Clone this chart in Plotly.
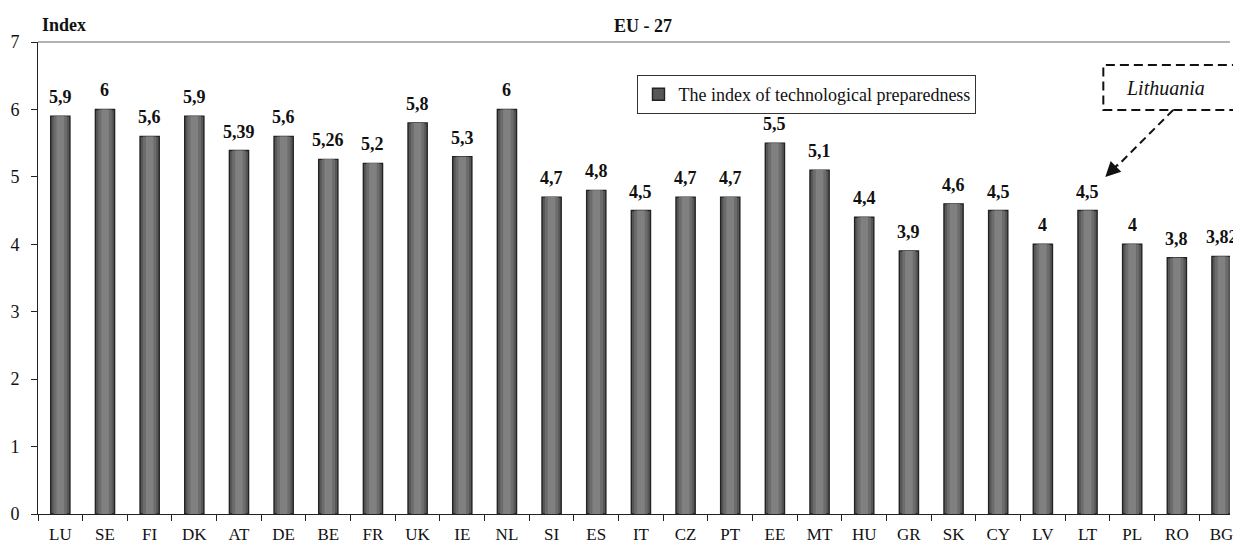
import plotly.graph_objects as go

countries = ["LU", "SE", "FI", "DK", "AT", "DE", "BE", "FR", "UK", "IE", "NL", "SI", "ES", "IT",
             "CZ", "PT", "EE", "MT", "HU", "GR", "SK", "CY", "LV", "LT", "PL", "RO", "BG"]
index_values = [5.9, 6, 5.6, 5.9, 5.39, 5.6, 5.26, 5.2, 5.8, 5.3, 6, 4.7, 4.8, 4.5,
                4.7, 4.7, 5.5, 5.1, 4.4, 3.9, 4.6, 4.5, 4, 4.5, 4, 3.8, 3.82]
value_labels = ["5,9", "6", "5,6", "5,9", "5,39", "5,6", "5,26", "5,2", "5,8", "5,3", "6", "4,7",
                "4,8", "4,5", "4,7", "4,7", "5,5", "5,1", "4,4", "3,9", "4,6", "4,5", "4", "4,5",
                "4", "3,8", "3,82"]
y_ticks = [0, 1, 2, 3, 4, 5, 6, 7]

SERIF = "Liberation Serif, Times New Roman, serif"

# plot-area geometry in pixels, used to place callouts in paper coordinates
L, R, T, B = 38, 1233, 42, 514


def px(xp):
    return (xp - L) / (R - L)


def py(yp):
    return (B - yp) / (B - T)


fig = go.Figure()
# outer bar with dark outline
fig.add_trace(go.Bar(
    x=countries, y=index_values,
    name="The index of technological preparedness",
    marker=dict(color="#575757", line=dict(color="#222222", width=1.4)),
    width=0.43,
))
# lighter inner layers give the bars a rounded, shaded look
for w, col in [(0.30, "#6c6c6c"), (0.17, "#808080")]:
    fig.add_trace(go.Bar(
        x=countries, y=index_values, width=w, showlegend=False, hoverinfo="skip",
        marker=dict(color=col, line=dict(width=0)),
    ))

# value labels above the bars
for c, v, t in zip(countries, index_values, value_labels):
    fig.add_annotation(x=c, y=v, text=f"<b>{t}</b>", showarrow=False,
                       xanchor="center", yanchor="bottom", yshift=7,
                       font=dict(family=SERIF, size=18, color="#111"))

# chart headings
fig.add_annotation(x=0.0, xref="paper", y=1.0, yref="paper", yshift=5, xshift=2,
                   text="<b>Index</b>", showarrow=False, xanchor="left", yanchor="bottom",
                   font=dict(family=SERIF, size=18, color="#111"))
fig.add_annotation(x=px(645), xref="paper", y=1.0, yref="paper", yshift=4,
                   text="<b>EU - 27</b>", showarrow=False, xanchor="center", yanchor="bottom",
                   font=dict(family=SERIF, size=18, color="#111"))

# Lithuania callout
fig.add_shape(type="rect", xref="paper", yref="paper",
              x0=px(1106), x1=1.05, y0=py(110), y1=py(65),
              line=dict(color="#111", width=2, dash="9px,5px"), fillcolor="rgba(0,0,0,0)")
fig.add_annotation(xref="paper", yref="paper", x=px(1168), y=py(88),
                   xanchor="center", yanchor="middle",
                   text="<i>Lithuania</i>", showarrow=False,
                   font=dict(family=SERIF, size=20, color="#111"))
fig.add_shape(type="line", xref="paper", yref="paper",
              x0=px(1176), y0=py(110), x1=px(1120), y1=py(166),
              line=dict(color="#111", width=2, dash="8px,5px"))
fig.add_annotation(xref="paper", yref="paper", axref="pixel", ayref="pixel",
                   x=px(1108), y=py(177), ax=14, ay=-14,
                   text="", showarrow=True, arrowhead=2, arrowsize=1.5, arrowwidth=2,
                   arrowcolor="#111")

# top frame line
fig.add_shape(type="line", xref="paper", yref="paper", x0=0, x1=1, y0=1, y1=1,
              line=dict(color="#9a9a9a", width=1.5))

fig.update_layout(
    width=1233, height=551,
    margin=dict(l=L, r=1233 - R, t=T, b=551 - B),
    paper_bgcolor="white", plot_bgcolor="white",
    barmode="overlay",
    showlegend=True,
    legend=dict(x=px(639), y=py(75), xanchor="left", yanchor="top",
                bordercolor="#333", borderwidth=1, bgcolor="white",
                font=dict(family=SERIF, size=18, color="#111"),
                itemwidth=30, tracegroupgap=0),
    font=dict(family=SERIF, size=17, color="#111"),
    xaxis=dict(range=[-0.5, 26.19], showline=True, linecolor="#222", linewidth=1,
               ticks="outside", tickson="boundaries", ticklen=6, tickcolor="#222",
               ticklabelstandoff=5,
               tickfont=dict(family=SERIF, size=17, color="#111"), showgrid=False),
    yaxis=dict(range=[0, 7], tickvals=y_ticks, showline=True, linecolor="#222", linewidth=1,
               ticks="outside", ticklen=6, tickcolor="#222", showgrid=False, zeroline=False,
               ticklabelstandoff=8,
               tickfont=dict(family=SERIF, size=18, color="#111")),
)

fig.write_html("out.html")
